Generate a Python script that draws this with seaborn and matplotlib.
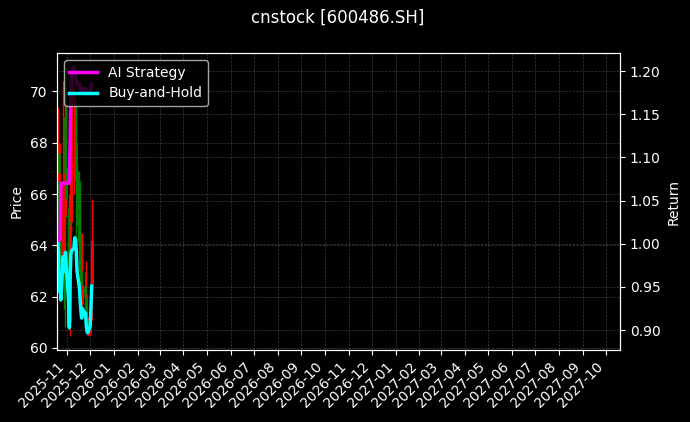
import matplotlib
matplotlib.use('Agg')
import matplotlib.pyplot as plt
import matplotlib.dates as mdates
import pandas as pd
import seaborn as sns

# trading days shown in the chart
dates = pd.bdate_range('2025-10-20', periods=33)

# daily OHLC prices
open_ = [66.2, 67.6, 66.5, 63.6, 64.6, 63.3, 66.6, 65.6, 65.2, 67.0, 65.5,
         63.0, 61.0, 64.9, 66.7, 67.0, 67.2, 68.0, 67.8, 66.9, 65.3, 64.2,
         63.0, 62.3, 61.7, 62.4, 61.9, 62.0, 61.1, 60.5, 60.6, 61.1, 62.5]
high = [69.4, 68.0, 66.8, 68.0, 65.0, 70.4, 69.0, 67.2, 70.2, 70.9, 66.0,
        63.4, 70.4, 70.97, 70.6, 70.2, 69.8, 69.0, 69.6, 67.2, 66.9, 66.5,
        64.5, 63.5, 64.5, 63.0, 63.4, 62.3, 61.6, 61.2, 62.0, 63.8, 65.8]
low = [65.9, 64.0, 63.2, 63.5, 62.6, 63.0, 61.5, 60.8, 64.8, 65.1, 62.0,
       60.7, 60.45, 64.5, 65.1, 66.0, 66.5, 66.8, 64.0, 64.8, 63.0, 62.5,
       61.8, 61.2, 61.3, 61.2, 61.4, 60.8, 60.5, 60.45, 60.5, 61.0, 62.4]
close = [67.50, 66.83, 63.79, 64.80, 63.11, 66.49, 65.81, 65.34, 66.83, 65.81,
         63.11, 60.95, 64.80, 66.69, 66.96, 67.16, 67.97, 67.84, 66.96, 65.34,
         64.13, 63.11, 62.24, 61.70, 62.44, 61.97, 62.10, 61.09, 60.62, 60.55,
         61.09, 62.44, 64.19]

# cumulative returns
ai_strategy = [1.000, 1.004, 1.004, 1.006, 1.070, 1.070, 1.070, 1.070, 1.070,
               1.070, 1.070, 1.072, 1.120, 1.180, 1.195, 1.205, 1.200, 1.195,
               1.190, 1.185, 1.185, 1.180, 1.178, 1.175, 1.180, 1.178, 1.180,
               1.176, 1.174, 1.174, 1.176, 1.180, 1.185]
buy_hold = [1.000, 0.990, 0.945, 0.960, 0.935, 0.985, 0.975, 0.968, 0.990,
            0.975, 0.935, 0.903, 0.960, 0.988, 0.992, 0.995, 1.007, 1.005,
            0.992, 0.968, 0.950, 0.935, 0.922, 0.914, 0.925, 0.918, 0.920,
            0.905, 0.898, 0.897, 0.905, 0.925, 0.951]

plt.style.use('dark_background')
fig, ax = plt.subplots(figsize=(6.9, 4.22), dpi=100)
fig.subplots_adjust(left=0.0826, right=0.8986, top=0.8744, bottom=0.1706)

# candles: red up, green down
colors = ['red' if c >= o else 'green' for o, c in zip(open_, close)]
ax.vlines(dates, low, high, colors=colors, linewidth=1)
ax.vlines(dates, open_, close, colors=colors, linewidth=2)
ax.set_ylabel('Price')
ax.set_ylim(59.92, 71.5)
ax.grid(True, color='#555555', linestyle='--', linewidth=0.5, alpha=0.7)

ax2 = ax.twinx()
sns.lineplot(x=dates, y=ai_strategy, color='magenta', linewidth=2.5,
             label='AI Strategy', ax=ax2)
sns.lineplot(x=dates, y=buy_hold, color='cyan', linewidth=2.5,
             label='Buy-and-Hold', ax=ax2)
ax2.set_ylabel('Return')
ax2.set_ylim(0.877, 1.221)
ax2.grid(True, axis='y', color='#555555', linestyle='--', linewidth=0.5, alpha=0.7)
ax2.legend(loc='upper left')

ax.set_xlim(pd.Timestamp('2025-10-19'), pd.Timestamp('2027-10-19'))
ax.xaxis.set_major_locator(mdates.MonthLocator())
ax.xaxis.set_major_formatter(mdates.DateFormatter('%Y-%m'))
plt.setp(ax.get_xticklabels(), rotation=45, ha='right')

fig.suptitle('cnstock [600486.SH]', x=0.49, fontsize=12)

fig.savefig('out.png', dpi=100)
